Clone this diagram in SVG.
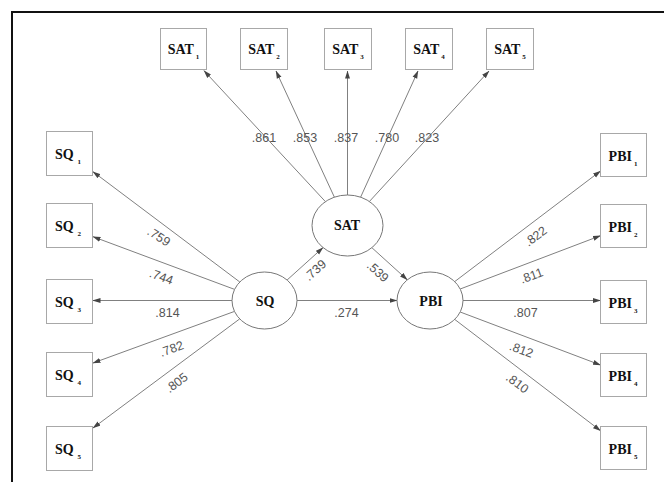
<svg xmlns="http://www.w3.org/2000/svg" width="664" height="482" viewBox="0 0 664 482">
<defs>
<marker id="ah" markerWidth="8" markerHeight="6" refX="7.5" refY="3" orient="auto" markerUnits="userSpaceOnUse">
<path d="M0,0.5 L8,3 L0,5.5 z" fill="#444"/>
</marker>
<style>
.box{fill:#fff;stroke:#a8a8a8;stroke-width:1}
.lat{fill:#fff;stroke:#777;stroke-width:1}
.nl{font-family:"Liberation Serif","Times New Roman",serif;font-weight:bold;font-size:14px;fill:#111;text-anchor:middle}
.sub{font-size:7px}
.cf{font-family:"Liberation Sans",Arial,sans-serif;font-size:12.5px;fill:#555;text-anchor:middle}
.ln{stroke:#808080;stroke-width:1;fill:none;marker-end:url(#ah)}
</style>
</defs>
<rect width="664" height="482" fill="#fff"/>
<path d="M12,482 V12 H664" fill="none" stroke="#111" stroke-width="2"/>

<g id="connectors">
<line class="ln" x1="325.4" y1="201.6" x2="204" y2="70.7"/>
<line class="ln" x1="334.4" y1="197.2" x2="276" y2="71"/>
<line class="ln" x1="347.5" y1="195" x2="347.5" y2="71"/>
<line class="ln" x1="360.6" y1="197.2" x2="418" y2="71"/>
<line class="ln" x1="369.4" y1="201.5" x2="489" y2="71"/>
<line class="ln" x1="239.8" y1="282" x2="93" y2="171.7"/>
<line class="ln" x1="234.6" y1="289.4" x2="93" y2="236.7"/>
<line class="ln" x1="232" y1="300.5" x2="93" y2="300.5"/>
<line class="ln" x1="234.5" y1="311.4" x2="93" y2="363"/>
<line class="ln" x1="239.7" y1="318.9" x2="93" y2="428"/>
<line class="ln" x1="287.1" y1="280" x2="323" y2="247.6"/>
<line class="ln" x1="371.9" y1="247.7" x2="407.3" y2="279.8"/>
<line class="ln" x1="297" y1="300.5" x2="397" y2="300.5"/>
<line class="ln" x1="454.7" y1="281.6" x2="600.5" y2="171"/>
<line class="ln" x1="460.2" y1="289" x2="600.5" y2="235.7"/>
<line class="ln" x1="463" y1="300.5" x2="600.5" y2="300.5"/>
<line class="ln" x1="460.2" y1="312" x2="600.5" y2="365"/>
<line class="ln" x1="454.7" y1="319.4" x2="600.5" y2="430.7"/>
</g>

<g id="coefficients">
<text class="cf" x="264" y="141.5">.861</text>
<text class="cf" x="305" y="141.5">.853</text>
<text class="cf" x="346" y="141.5">.837</text>
<text class="cf" x="387" y="141.5">.780</text>
<text class="cf" x="427" y="141.5">.823</text>
<text class="cf" x="159" y="241" transform="rotate(33 159 236.5)">.759</text>
<text class="cf" x="161.5" y="281" transform="rotate(20 161.5 276.5)">.744</text>
<text class="cf" x="167.5" y="317">.814</text>
<text class="cf" x="171.5" y="353" transform="rotate(-20 171.5 348.5)">.782</text>
<text class="cf" x="176.5" y="387" transform="rotate(-37 176.5 382.5)">.805</text>
<text class="cf" x="315" y="274.5" transform="rotate(-42 315 270)">.739</text>
<text class="cf" x="378" y="276" transform="rotate(42 378 271.5)">.539</text>
<text class="cf" x="346.5" y="316.5">.274</text>
<text class="cf" x="535.5" y="240.5" transform="rotate(-37 535.5 236)">.822</text>
<text class="cf" x="531.5" y="280" transform="rotate(-20 531.5 275.5)">.811</text>
<text class="cf" x="525.5" y="316.5">.807</text>
<text class="cf" x="521.5" y="354" transform="rotate(20 521.5 349.5)">.812</text>
<text class="cf" x="517.5" y="387.5" transform="rotate(37 517.5 383)">.810</text>
</g>

<g id="SAT"><ellipse class="lat" cx="347.5" cy="225.5" rx="35.5" ry="30.5"/><text class="nl" x="347" y="230">SAT</text></g>
<g id="SQ"><ellipse class="lat" cx="264.5" cy="300.5" rx="32.5" ry="28.5"/><text class="nl" x="265" y="305.5">SQ</text></g>
<g id="PBI"><ellipse class="lat" cx="430" cy="300.5" rx="33" ry="28.5"/><text class="nl" x="431" y="306">PBI</text></g>

<g id="SAT1"><rect class="box" x="160.5" y="28.5" width="46" height="41"/><text class="nl" x="183.5" y="53.5">SAT<tspan class="sub" dx="2" dy="5">1</tspan></text></g>
<g id="SAT2"><rect class="box" x="240.5" y="28.5" width="47" height="41"/><text class="nl" x="264" y="53.5">SAT<tspan class="sub" dx="2" dy="5">2</tspan></text></g>
<g id="SAT3"><rect class="box" x="324.5" y="28.5" width="47" height="41"/><text class="nl" x="348" y="53.5">SAT<tspan class="sub" dx="2" dy="5">3</tspan></text></g>
<g id="SAT4"><rect class="box" x="405.5" y="28.5" width="47" height="41"/><text class="nl" x="429" y="53.5">SAT<tspan class="sub" dx="2" dy="5">4</tspan></text></g>
<g id="SAT5"><rect class="box" x="486.5" y="28.5" width="47" height="41"/><text class="nl" x="510" y="53.5">SAT<tspan class="sub" dx="2" dy="5">5</tspan></text></g>

<g id="SQ1"><rect class="box" x="46.5" y="131.5" width="46" height="44"/><text class="nl" x="68" y="159">SQ<tspan class="sub" dx="4" dy="5">1</tspan></text></g>
<g id="SQ2"><rect class="box" x="46.5" y="203.5" width="46" height="44"/><text class="nl" x="68" y="231">SQ<tspan class="sub" dx="4" dy="5">2</tspan></text></g>
<g id="SQ3"><rect class="box" x="46.5" y="279.5" width="46" height="44"/><text class="nl" x="68" y="307">SQ<tspan class="sub" dx="4" dy="5">3</tspan></text></g>
<g id="SQ4"><rect class="box" x="46.5" y="352.5" width="46" height="44"/><text class="nl" x="68" y="380">SQ<tspan class="sub" dx="4" dy="5">4</tspan></text></g>
<g id="SQ5"><rect class="box" x="46.5" y="426.5" width="46" height="44"/><text class="nl" x="68" y="454">SQ<tspan class="sub" dx="4" dy="5">5</tspan></text></g>

<g id="PBI1"><rect class="box" x="600.5" y="133.5" width="46" height="43"/><text class="nl" x="623" y="160.5">PBI<tspan class="sub" dx="2" dy="5">1</tspan></text></g>
<g id="PBI2"><rect class="box" x="600.5" y="204.5" width="46" height="43"/><text class="nl" x="623" y="231.5">PBI<tspan class="sub" dx="2" dy="5">2</tspan></text></g>
<g id="PBI3"><rect class="box" x="600.5" y="280.5" width="46" height="43"/><text class="nl" x="623" y="307.5">PBI<tspan class="sub" dx="2" dy="5">3</tspan></text></g>
<g id="PBI4"><rect class="box" x="600.5" y="353.5" width="46" height="43"/><text class="nl" x="623" y="380.5">PBI<tspan class="sub" dx="2" dy="5">4</tspan></text></g>
<g id="PBI5"><rect class="box" x="600.5" y="426.5" width="46" height="43"/><text class="nl" x="623" y="453.5">PBI<tspan class="sub" dx="2" dy="5">5</tspan></text></g>
</svg>
